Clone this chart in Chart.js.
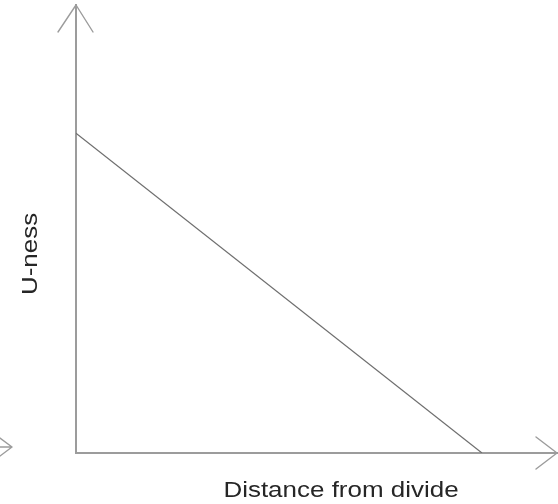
<!DOCTYPE html>
<html>
<head>
<meta charset="utf-8">
<script src="https://cdn.jsdelivr.net/npm/chart.js@4/dist/chart.umd.min.js"></script>
<style>
  html, body { margin: 0; padding: 0; background: #ffffff; }
  #wrap { width: 558px; height: 504px; }
</style>
</head>
<body>
<div id="wrap"><canvas id="chart" width="558" height="504"></canvas></div>
<script>
// Schematic: U-ness falls linearly with distance from the divide
const distance = [0, 0.844];
const uness = [0.714, 0];
const xTitle = 'Distance from divide';
const yTitle = 'U-ness';

const AXIS_COLOR = '#9c9c9c';
const LINE_COLOR = '#6e6e6e';
const TEXT_COLOR = '#262626';

// Arrowheads on both axes plus the axis captions
const axisDecor = {
  id: 'axisDecor',
  afterDraw(chart) {
    const { ctx, chartArea: a } = chart;
    ctx.save();
    ctx.strokeStyle = AXIS_COLOR;
    ctx.lineWidth = 1.4;
    ctx.lineCap = 'round';
    ctx.lineJoin = 'round';
    // y-axis arrow
    ctx.beginPath();
    ctx.moveTo(a.left - 18, a.top + 27);
    ctx.lineTo(a.left, a.top);
    ctx.lineTo(a.left + 17, a.top + 27);
    ctx.stroke();
    // x-axis arrow
    ctx.beginPath();
    ctx.moveTo(a.right - 21, a.bottom - 16);
    ctx.lineTo(a.right, a.bottom);
    ctx.lineTo(a.right - 21, a.bottom + 16);
    ctx.stroke();
    // small arrow at the left edge
    ctx.beginPath();
    ctx.moveTo(0, a.bottom - 15);
    ctx.lineTo(12, a.bottom - 6);
    ctx.lineTo(0, a.bottom + 3);
    ctx.moveTo(0, a.bottom - 6);
    ctx.lineTo(12, a.bottom - 6);
    ctx.stroke();

    ctx.fillStyle = TEXT_COLOR;
    ctx.font = '22px "Liberation Sans", Arial, sans-serif';
    ctx.textAlign = 'center';
    ctx.textBaseline = 'alphabetic';
    // x caption
    ctx.save();
    ctx.translate(341, a.bottom + 44);
    ctx.scale(1.18, 1);
    ctx.fillText(xTitle, 0, 0);
    ctx.restore();
    // y caption
    ctx.save();
    ctx.translate(a.left - 39, 254);
    ctx.rotate(-Math.PI / 2);
    ctx.scale(1.18, 1);
    ctx.fillText(yTitle, 0, 0);
    ctx.restore();
    ctx.restore();
  }
};

new Chart(document.getElementById('chart'), {
  type: 'line',
  data: {
    datasets: [{
      data: distance.map((d, i) => ({ x: d, y: uness[i] })),
      borderColor: LINE_COLOR,
      borderWidth: 1.2,
      pointRadius: 0,
      fill: false,
      tension: 0
    }]
  },
  options: {
    responsive: false,
    animation: false,
    layout: { padding: { left: 76, top: 5, right: 1, bottom: 51 } },
    plugins: { legend: { display: false }, tooltip: { enabled: false } },
    scales: {
      x: {
        type: 'linear', min: 0, max: 1,
        ticks: { display: false },
        grid: { display: false, drawTicks: false },
        border: { display: true, color: AXIS_COLOR, width: 2 }
      },
      y: {
        type: 'linear', min: 0, max: 1,
        ticks: { display: false },
        grid: { display: false, drawTicks: false },
        border: { display: true, color: AXIS_COLOR, width: 2 }
      }
    }
  },
  plugins: [axisDecor]
});
</script>
</body>
</html>
